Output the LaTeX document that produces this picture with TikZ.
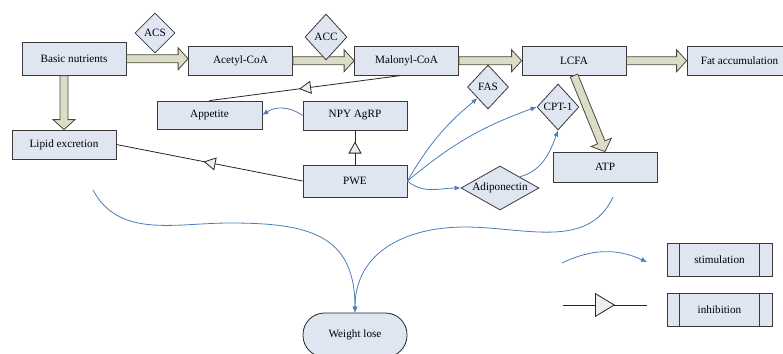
\documentclass[tikz,border=0pt]{standalone}
\usepackage{fontspec}
\setmainfont{Liberation Serif}
\usetikzlibrary{shapes.geometric,arrows.meta,decorations.markings,calc}
\definecolor{boxfill}{HTML}{DFE5F1}
\definecolor{boxline}{HTML}{3A3A3A}
\definecolor{bafill}{HTML}{DCDCC9}
\definecolor{baline}{HTML}{4A4A3A}
\definecolor{stimblue}{HTML}{4A7EBB}
\definecolor{trifill}{HTML}{EEEEEE}
\newcommand\blockarr[2]{%
  \coordinate (bkA) at (#1);
  \coordinate (bkB) at (#2);
  \coordinate (bkH) at ($(bkB)!10pt!(bkA)$);
  \draw[blockarrow] ($(bkA)!4pt!90:(bkB)$) -- ($(bkH)!4pt!-90:(bkA)$) -- ($(bkH)!11pt!-90:(bkA)$) -- (bkB) -- ($(bkH)!11pt!90:(bkA)$) -- ($(bkH)!4pt!90:(bkA)$) -- ($(bkA)!4pt!-90:(bkB)$) -- cycle;}
\begin{document}
\begin{tikzpicture}[x=1pt,y=1pt,
  txt/.style={font=\fontsize{11.2}{13}\selectfont},
  box/.style={txt,draw=boxline,fill=boxfill,line width=0.8pt,minimum width=104pt,minimum height=29pt,inner sep=1pt},
  dia/.style={txt,diamond,draw=boxline,fill=boxfill,line width=0.8pt,inner sep=0pt},
  wlbox/.style={txt,draw=black!85,fill=boxfill,line width=0.8pt,rounded corners=21.5pt,minimum width=104pt,minimum height=44pt},
  blockarrow/.style={draw=baline,fill=bafill,line width=0.8pt,line join=miter},
  stimarrow/.style={draw=stimblue,line width=0.8pt,-{Latex[length=6pt,width=5pt]}},
  inhib/.style={draw=black!85,line width=0.8pt,postaction={decorate},
    decoration={markings,mark=at position 0.5 with {\arrow[xshift=6pt]{Triangle[length=12pt,width=13pt,fill=trifill]}}}},
  inhibbig/.style={draw=black!85,line width=0.8pt,postaction={decorate},
    decoration={markings,mark=at position 0.5 with {\arrow[xshift=10pt]{Triangle[length=20pt,width=24pt,fill=trifill]}}}}
]
\useasboundingbox (0,0) rectangle (783,-353);
% boxes
\node[box,minimum height=33pt] (bn) at (74,-58.7) {Basic nutrients};
\node[box] (acetyl) at (240.5,-60.7) {Acetyl-CoA};
\node[box] (malonyl) at (406.5,-60.7) {Malonyl-CoA};
\node[box] (lcfa) at (574,-60.7) {LCFA};
\node[box,minimum width=105pt] (fat) at (739.5,-60.7) {Fat accumulation};
\node[box,minimum width=105pt,minimum height=28pt] (app) at (209.5,-115) {Appetite};
\node[box] (npy) at (355,-115.5) {NPY AgRP};
\node[box] (le) at (64,-144.5) {Lipid excretion};
\node[box,minimum height=32pt] (pwe) at (355,-181) {PWE};
\node[box,minimum height=30pt] (atp) at (605,-167) {ATP};
\node[wlbox] (wl) at (355,-335) {Weight lose};
\node[box,minimum width=105pt,minimum height=33pt] (stim) at (719.5,-259.5) {stimulation};
\node[box,minimum width=105pt,minimum height=33pt] (inhb) at (719.5,-309.5) {inhibition};
\draw[boxline,line width=0.8pt] ([xshift=13pt]stim.north west) -- ([xshift=13pt]stim.south west);
\draw[boxline,line width=0.8pt] ([xshift=-13pt]stim.north east) -- ([xshift=-13pt]stim.south east);
\draw[boxline,line width=0.8pt] ([xshift=13pt]inhb.north west) -- ([xshift=13pt]inhb.south west);
\draw[boxline,line width=0.8pt] ([xshift=-13pt]inhb.north east) -- ([xshift=-13pt]inhb.south east);
% block arrows
\blockarr{bn.east}{bn.east -| acetyl.west}
\blockarr{acetyl.east}{malonyl.west}
\blockarr{malonyl.east}{lcfa.west}
\blockarr{lcfa.east}{fat.west}
\blockarr{bn.south -| le.north}{le.north}
\blockarr{lcfa.south}{atp.north}
% diamonds
\node[dia,minimum width=40pt,minimum height=40pt] (acs) at (155,-33) {ACS};
\node[dia,minimum width=42pt,minimum height=46pt] (acc) at (326,-37) {ACC};
\node[dia,minimum width=41pt,minimum height=44pt] (fas) at (488,-87) {FAS};
\node[dia,minimum width=42pt,minimum height=46pt] (cpt) at (558,-107) {CPT-1};
\node[dia,aspect=1.8,minimum width=78pt,minimum height=44pt] (adipo) at (500,-188) {Adiponectin};
% inhibition
\draw[inhib] ([xshift=-6pt]malonyl.south) -- (app.north);
\draw[inhib] (pwe.north) -- (npy.south);
\draw[inhib] (pwe.west) -- (le.east);
% stimulation
\draw[stimarrow] (npy.west) to[bend right=35] (app.east);
\draw[stimarrow] (pwe.east) to[bend left=10] (fas.south west);
\draw[stimarrow] (pwe.east) to[bend left=10] (cpt.west);
\draw[stimarrow] (pwe.east) to[out=-40,in=180] (adipo.west);
\draw[stimarrow] (adipo.north east) to[out=15,in=-110] (cpt.south);
% weight lose curves
\coordinate (wlA) at (93,-190);
\coordinate (wlAm) at (230,-223);
\coordinate (wlB) at (613,-197);
\coordinate (wlBm) at (465,-227);
\draw[stimarrow] (wlA) to[out=-62,in=180] (wlAm) to[out=0,in=90,looseness=1.3] (wl.north);
\draw[stimarrow] (wlB) to[out=-115,in=0] (wlBm) to[out=180,in=90,looseness=1.1] (wl.north);
% legend
\coordinate (ls1) at (562,-263);
\coordinate (ls2) at (647,-262);
\draw[stimarrow] (ls1) to[bend left=25] (ls2);
\coordinate (li1) at (563,-305);
\coordinate (li2) at (647,-305);
\draw[inhibbig] (li1) -- (li2);
\end{tikzpicture}
\end{document}
